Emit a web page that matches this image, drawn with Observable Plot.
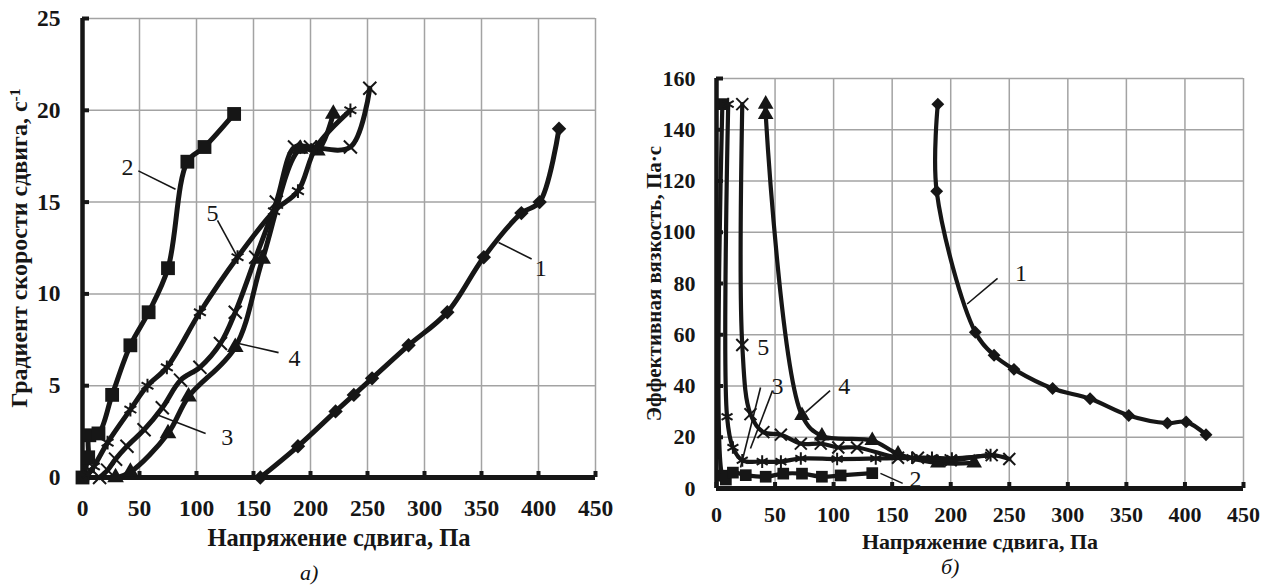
<!DOCTYPE html>
<html><head><meta charset="utf-8">
<script src="https://cdn.jsdelivr.net/npm/d3@7"></script>
<script src="https://cdn.jsdelivr.net/npm/@observablehq/plot@0.6"></script>
<style>
html,body{margin:0;padding:0;background:#fff;}
#wrap{position:relative;width:1270px;height:588px;overflow:hidden;font-family:"Liberation Serif",serif;}
#pa{position:absolute;left:0;top:0;}
#pb{position:absolute;left:630px;top:0;}
.cap{position:absolute;font-family:"Liberation Serif",serif;font-style:italic;font-size:22px;line-height:22px;color:#111;}
</style></head>
<body><div id="wrap"><div id="pa"></div><div id="pb"></div>
<div class="cap" id="capA" style="left:300px;top:562px;">а)</div>
<div class="cap" id="capB" style="left:941px;top:556px;">б)</div>
</div>
<script>
// ---- tick values ----
const xTicks = [0, 50, 100, 150, 200, 250, 300, 350, 400, 450];
const yTicksA = [0, 5, 10, 15, 20, 25];
const yTicksB = [0, 20, 40, 60, 80, 100, 120, 140, 160];

// ---- titles ----
const xTitle = "Напряжение сдвига, Па";
const yTitleA = "Градиент скорости сдвига, с";
const yTitleASup = "-1";
const yTitleB = "Эффективная вязкость, Па·с";

// ---- panel a): shear rate vs shear stress ----
const a1X = [156, 189, 222, 238, 254, 286, 320, 352, 385, 401, 418];
const a1Y = [0, 1.7, 3.6, 4.5, 5.4, 7.2, 9.0, 12.0, 14.4, 15.0, 19.0];
const a2X = [0, 5, 6, 14, 26, 42, 58, 75, 92, 107, 133];
const a2Y = [0, 1.1, 2.3, 2.4, 4.5, 7.2, 9.0, 11.4, 17.2, 18.0, 19.8];
const a3X = [15, 22, 29, 39, 54, 70, 86, 103, 121, 134, 152, 170, 186, 200, 235, 252];
const a3Y = [0, 0.4, 1.0, 1.7, 2.6, 3.8, 5.3, 6.0, 7.3, 9.0, 12.0, 15.0, 18.0, 18.0, 18.0, 21.2];
const a4X = [29, 42, 75, 93, 134, 158, 191, 206, 220];
const a4Y = [0, 0.3, 2.4, 4.4, 7.1, 11.9, 17.9, 17.8, 19.8];
const a5X = [5, 10, 22, 42, 57, 74, 103, 136, 168, 189, 205, 235];
const a5Y = [0.17, 0.6, 1.9, 3.7, 5.0, 6.0, 9.0, 12.0, 14.5, 15.6, 18.0, 20.0];

// ---- panel б): effective viscosity vs shear stress ----
const b1X = [189, 188, 221, 237, 254, 287, 319, 352, 385, 401, 418];
const b1Y = [150, 116, 61, 52, 46.5, 39, 35, 28.5, 25.5, 26, 21];
const b2X = [5, 5, 8, 14, 25, 42, 57, 73, 90, 106, 133];
const b2Y = [150, 5, 3.5, 6.2, 5.2, 4.6, 5.8, 5.8, 4.6, 5.1, 6.0];
const b3X = [10, 9, 14, 22, 39, 55, 72, 103, 136, 167, 184, 201, 234];
const b3Y = [150, 28, 16, 11, 10.5, 10.5, 11.7, 11.5, 11.7, 12, 12, 11.7, 13];
const b4X = [42, 42, 73, 90, 133, 155, 189, 220];
const b4Y = [150, 146, 28.5, 20.5, 18.7, 13.5, 10, 10];
const b5X = [22, 22, 29, 40, 55, 72, 89, 104, 120, 155, 172, 200, 235, 250];
const b5Y = [150, 56, 29, 22, 21, 17.5, 17.5, 16, 16, 12, 12, 11, 13, 11.5];

// ---- curve number labels and leader lines (data units) ----
const labA = [
  {t: "1", x: 402, y: 11.4}, {t: "2", x: 39.5, y: 16.9}, {t: "5", x: 114, y: 14.4},
  {t: "4", x: 186, y: 6.5}, {t: "3", x: 127, y: 2.2}
];
const leadA = [
  {x1: 394, y1: 11.9, x2: 365, y2: 12.8}, {x1: 49, y1: 16.7, x2: 81.6, y2: 15.7},
  {x1: 118.4, y1: 14.0, x2: 136, y2: 12.0}, {x1: 172, y1: 6.8, x2: 137, y2: 7.3},
  {x1: 108, y1: 2.4, x2: 66, y2: 3.4}
];
const labB = [
  {t: "1", x: 260, y: 84}, {t: "5", x: 40, y: 55}, {t: "3", x: 52, y: 40},
  {t: "4", x: 109, y: 40}, {t: "2", x: 170, y: 3.5}
];
const leadB = [
  {x1: 240, y1: 82, x2: 214, y2: 72}, {x1: 37.6, y1: 39.4, x2: 20.5, y2: 8.2},
  {x1: 47.8, y1: 38.2, x2: 29, y2: 15.6}, {x1: 97, y1: 38.2, x2: 76, y2: 29.7},
  {x1: 159, y1: 2, x2: 140, y2: 5.9}
];

const INK = "#161616";
const rows = (xs, ys) => xs.map((x, i) => ({x, y: ys[i]}));

function seriesMarks(xs, ys, symbol, r, sw, filled) {
  const d = rows(xs, ys);
  return [
    Plot.line(d, {x: "x", y: "y", curve: "catmull-rom", stroke: INK, strokeWidth: sw, strokeLinejoin: "round"}),
    filled
      ? Plot.dot(d, {x: "x", y: "y", symbol, r, fill: INK, stroke: "none"})
      : Plot.dot(d, {x: "x", y: "y", symbol, r, fill: "none", stroke: INK, strokeWidth: 2})
  ];
}

function panel(o) {
  return Plot.plot({
    width: o.width, height: 550,
    marginLeft: o.ml, marginRight: o.mr, marginTop: o.mt, marginBottom: 550 - o.bottom,
    style: {fontFamily: "'Liberation Serif', serif", color: INK, background: "transparent", overflow: "visible"},
    x: {domain: [0, 450]},
    y: {domain: o.yDomain},
    marks: [
      Plot.gridX(xTicks, {stroke: "#a3a3a3", strokeOpacity: 1, strokeWidth: 1.5}),
      Plot.gridY(o.yTicks, {stroke: "#a3a3a3", strokeOpacity: 1, strokeWidth: 1.5}),
      Plot.axisX({ticks: xTicks, tickSize: -6, strokeWidth: 4, tickFormat: () => "", label: null}),
      Plot.axisY({ticks: o.yTicks, tickSize: -7, strokeWidth: 4, tickFormat: () => "", label: null}),
      Plot.axisX({ticks: xTicks, tickSize: 0, tickPadding: o.xPad, fontSize: o.tickFont, fontWeight: "bold", fontVariant: "normal", label: null}),
      Plot.axisY({ticks: o.yTicks, tickSize: 0, tickPadding: o.yPad, fontSize: o.tickFont, fontWeight: "bold", fontVariant: "normal", label: null}),
      Plot.ruleX([0], {stroke: INK, strokeWidth: 4.5}),
      Plot.ruleY([0], {stroke: INK, strokeWidth: 5}),
      ...o.series,
      Plot.link(o.leaders, {x1: "x1", y1: "y1", x2: "x2", y2: "y2", stroke: INK, strokeWidth: 1.6}),
      Plot.text(o.labels, {x: "x", y: "y", text: "t", fontSize: 24, fill: INK}),
      Plot.text([xTitle], {frameAnchor: "bottom", dy: o.xTitleDy, text: d => d, fontSize: o.xTitleFont, fontWeight: "bold", fill: INK, lineAnchor: "middle", textAnchor: "middle"}),
      Plot.text([o.yTitle], {frameAnchor: "left", dx: o.yTitleDx, rotate: -90, text: d => d, fontSize: o.yTitleFont, fontWeight: "bold", fill: INK, lineAnchor: "middle", textAnchor: "middle"})
    ]
  });
}

const svgA = panel({
  width: 630, ml: 82, mr: 35, mt: 18, bottom: 477,
  yDomain: [0, 25], yTicks: yTicksA, xPad: 22, yPad: 22, tickFont: 23.5,
  xTitleDy: 61, xTitleFont: 24.5, yTitle: yTitleA, yTitleDx: -63, yTitleFont: 24,
  labels: labA, leaders: leadA,
  series: [
    ...seriesMarks(a1X, a1Y, "diamond2", 6.5, 5, true),
    ...seriesMarks(a2X, a2Y, "square", 7.8, 5, true),
    ...seriesMarks(a3X, a3Y, "times", 6, 5, false),
    ...seriesMarks(a4X, a4Y, "triangle", 6.2, 5, true),
    ...seriesMarks(a5X, a5Y, "asterisk", 6.5, 5, false)
  ]
});
const svgB = panel({
  width: 640, ml: 86, mr: 27, mt: 78, bottom: 488,
  yDomain: [0, 160], yTicks: yTicksB, xPad: 18, yPad: 21, tickFont: 22,
  xTitleDy: 53, xTitleFont: 22, yTitle: yTitleB, yTitleDx: -62, yTitleFont: 21,
  labels: labB, leaders: leadB,
  series: [
    ...seriesMarks(b1X, b1Y, "diamond2", 5.8, 4.2, true),
    ...seriesMarks(b2X, b2Y, "square", 6.6, 4.2, true),
    ...seriesMarks(b3X, b3Y, "asterisk", 6, 4.2, false),
    ...seriesMarks(b4X, b4Y, "triangle", 5.8, 4.2, true),
    ...seriesMarks(b5X, b5Y, "times", 5.5, 4.2, false)
  ]
});
document.getElementById("pa").appendChild(svgA);
document.getElementById("pb").appendChild(svgB);

// superscript for the unit of the left y title
d3.select(svgA).selectAll("text").filter(function () { return this.textContent === yTitleA; })
  .each(function () {
    d3.select(this).append("tspan").attr("dy", "-0.45em").attr("font-size", "65%").text(yTitleASup);
  });
</script></body></html>
